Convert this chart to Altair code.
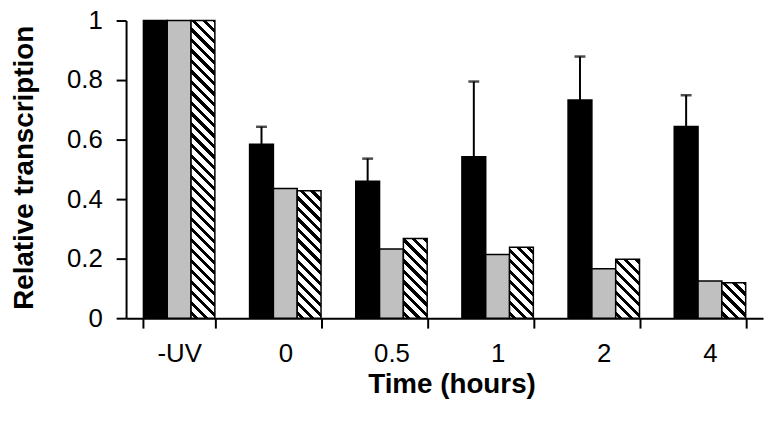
import altair as alt
import pandas as pd

# ---- data ----
categories = ["-UV", "0", "0.5", "1", "2", "4"]
series_keys = ["black", "grey", "hatched"]
black_values = [1.0, 0.584, 0.460, 0.542, 0.733, 0.644]
black_err_top = [None, 0.643, 0.536, 0.795, 0.879, 0.749]
grey_values = [1.0, 0.436, 0.232, 0.214, 0.166, 0.125]
hatched_values = [1.0, 0.428, 0.268, 0.238, 0.198, 0.119]
y_ticks = [0, 0.2, 0.4, 0.6, 0.8, 1]

PLOT_W = 642
PLOT_H = 300
PAD_INNER = 0.327
BAR_W = PLOT_W / len(categories) * (1 - PAD_INNER) / 3
FONT = "Liberation Sans"

rows = []
for c, b, g, h in zip(categories, black_values, grey_values, hatched_values):
    rows.append({"cat": c, "series": "black", "value": b})
    rows.append({"cat": c, "series": "grey", "value": g})
    rows.append({"cat": c, "series": "hatched", "value": h})
df = pd.DataFrame(rows)

err_rows = [
    {"cat": c, "series": "black", "value": v, "top": t}
    for c, v, t in zip(categories, black_values, black_err_top)
    if t is not None
]
df_err = pd.DataFrame(err_rows)


def hatch(value, w=BAR_W, period=10.6, frac=0.4):
    """Diagonal (\\\\) stripes as a hard-stop linear gradient in bbox units."""
    h = max(value * PLOT_H, 1.0)
    L = w + h
    t = L / (w * w + h * h)
    step = period / L
    stops = [{"offset": 0, "color": "white"}]
    a = step * 0.3
    while a < 1:
        b = min(a + frac * step, 1.0)
        stops += [
            {"offset": round(a, 5), "color": "white"},
            {"offset": round(a, 5), "color": "black"},
            {"offset": round(b, 5), "color": "black"},
            {"offset": round(b, 5), "color": "white"},
        ]
        a += step
    stops.append({"offset": 1, "color": "white"})
    return {"gradient": "linear", "x1": 0, "y1": 1,
            "x2": t * w, "y2": 1 - t * h, "stops": stops}


x_axis = alt.Axis(
    title="Time (hours)", labelAngle=0, tickBand="extent",
    labelFontSize=26, labelPadding=13,
    titleFontSize=28, titleFontWeight="bold",
    titleX=328, titleY=75, titleBaseline="alphabetic",
)
y_axis = alt.Axis(
    title="Relative transcription", values=y_ticks, format="~g",
    labelFontSize=26, labelPadding=14,
    titleFontSize=28, titleFontWeight="bold",
    titleAngle=270, titleAlign="center", titleBaseline="alphabetic",
    titleX=-94, titleY=PLOT_H / 2 - 2,
)

X = alt.X("cat:N", sort=categories, axis=x_axis,
          scale=alt.Scale(domain=categories, paddingInner=PAD_INNER,
                          paddingOuter=PAD_INNER / 2))
XO = alt.XOffset("series:N",
                 scale=alt.Scale(domain=series_keys, paddingInner=0, paddingOuter=0))
Y = alt.Y("value:Q", axis=y_axis, scale=alt.Scale(domain=[0, 1], nice=False))

solid = alt.Chart(df).transform_filter(
    alt.FieldOneOfPredicate(field="series", oneOf=["black", "grey"])
).mark_bar(stroke="black", strokeWidth=1.5).encode(
    x=X, xOffset=XO, y=Y,
    fill=alt.Fill("series:N", legend=None,
                  scale=alt.Scale(domain=["black", "grey"], range=["#000000", "#c0c0c0"])),
)

layers = [solid]
for c, v in zip(categories, hatched_values):
    layers.append(
        alt.Chart(df).transform_filter(
            (alt.datum.series == "hatched") & (alt.datum.cat == c)
        ).mark_bar(fill=hatch(v), stroke="black", strokeWidth=1.5).encode(
            x=X, xOffset=XO, y=Y
        )
    )

err_rule = alt.Chart(df_err).mark_rule(color="black", strokeWidth=2).encode(
    x=X, xOffset=XO, y=Y, y2="top:Q"
)
err_cap = alt.Chart(df_err).mark_tick(
    color="black", thickness=2.5, size=11, orient="horizontal"
).encode(
    x=X, xOffset=XO,
    y=alt.Y("top:Q", axis=y_axis, scale=alt.Scale(domain=[0, 1], nice=False)),
)
layers += [err_rule, err_cap]

chart = alt.layer(*layers).properties(
    width=PLOT_W, height=PLOT_H,
    autosize=alt.AutoSizeParams(type="none"),
    padding={"left": 119, "top": 11, "right": 4, "bottom": 100},
).configure_view(stroke=None).configure_axis(
    domainColor="black", domainWidth=2, tickColor="black", tickWidth=2,
    tickSize=10, labelColor="black", titleColor="black",
    labelFont=FONT, titleFont=FONT, grid=False,
)

chart.save("out.html", embed_options={"renderer": "svg", "actions": False})
